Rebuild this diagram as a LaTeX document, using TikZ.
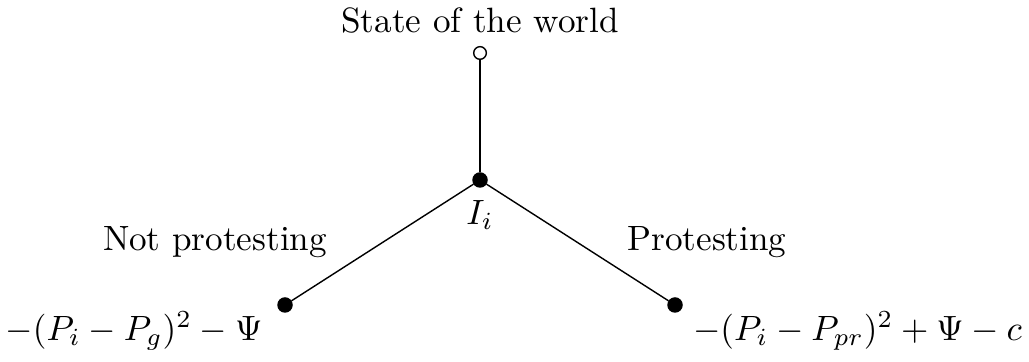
\documentclass[tikz,border=0pt]{standalone}
\begin{document}
\begin{tikzpicture}[
  solid node/.style={circle,fill=black,draw=black,inner sep=0pt,minimum size=4pt},
  hollow node/.style={circle,fill=white,draw=black,line width=0.4pt,inner sep=0pt,minimum size=3.6pt},
  edge/.style={draw=black,line width=0.4pt}
]
\useasboundingbox (0,0) rectangle (10.29,3.62);
\node[hollow node] (root) at (4.80,3.09) {};
\node[solid node] (I) at (4.80,1.82) {};
\node[solid node] (L) at (2.85,0.57) {};
\node[solid node] (R) at (6.75,0.57) {};
\draw[edge] (root) -- (I);
\draw[edge] (I) -- (L);
\draw[edge] (I) -- (R);
\node[anchor=south] (st) at (root.north) {State of the world};
\node[anchor=north] (Il) at (I.south) {$I_i$};
\node (np) at (2.15,1.20) {Not protesting};
\node (pr) at (7.07,1.20) {Protesting};
\node (pl) at (1.34,0.31) {$-(P_i-P_g)^2-\Psi$};
\node (prp) at (8.575,0.31) {$-(P_i-P_{pr})^2+\Psi-c$};
\end{tikzpicture}
\end{document}
